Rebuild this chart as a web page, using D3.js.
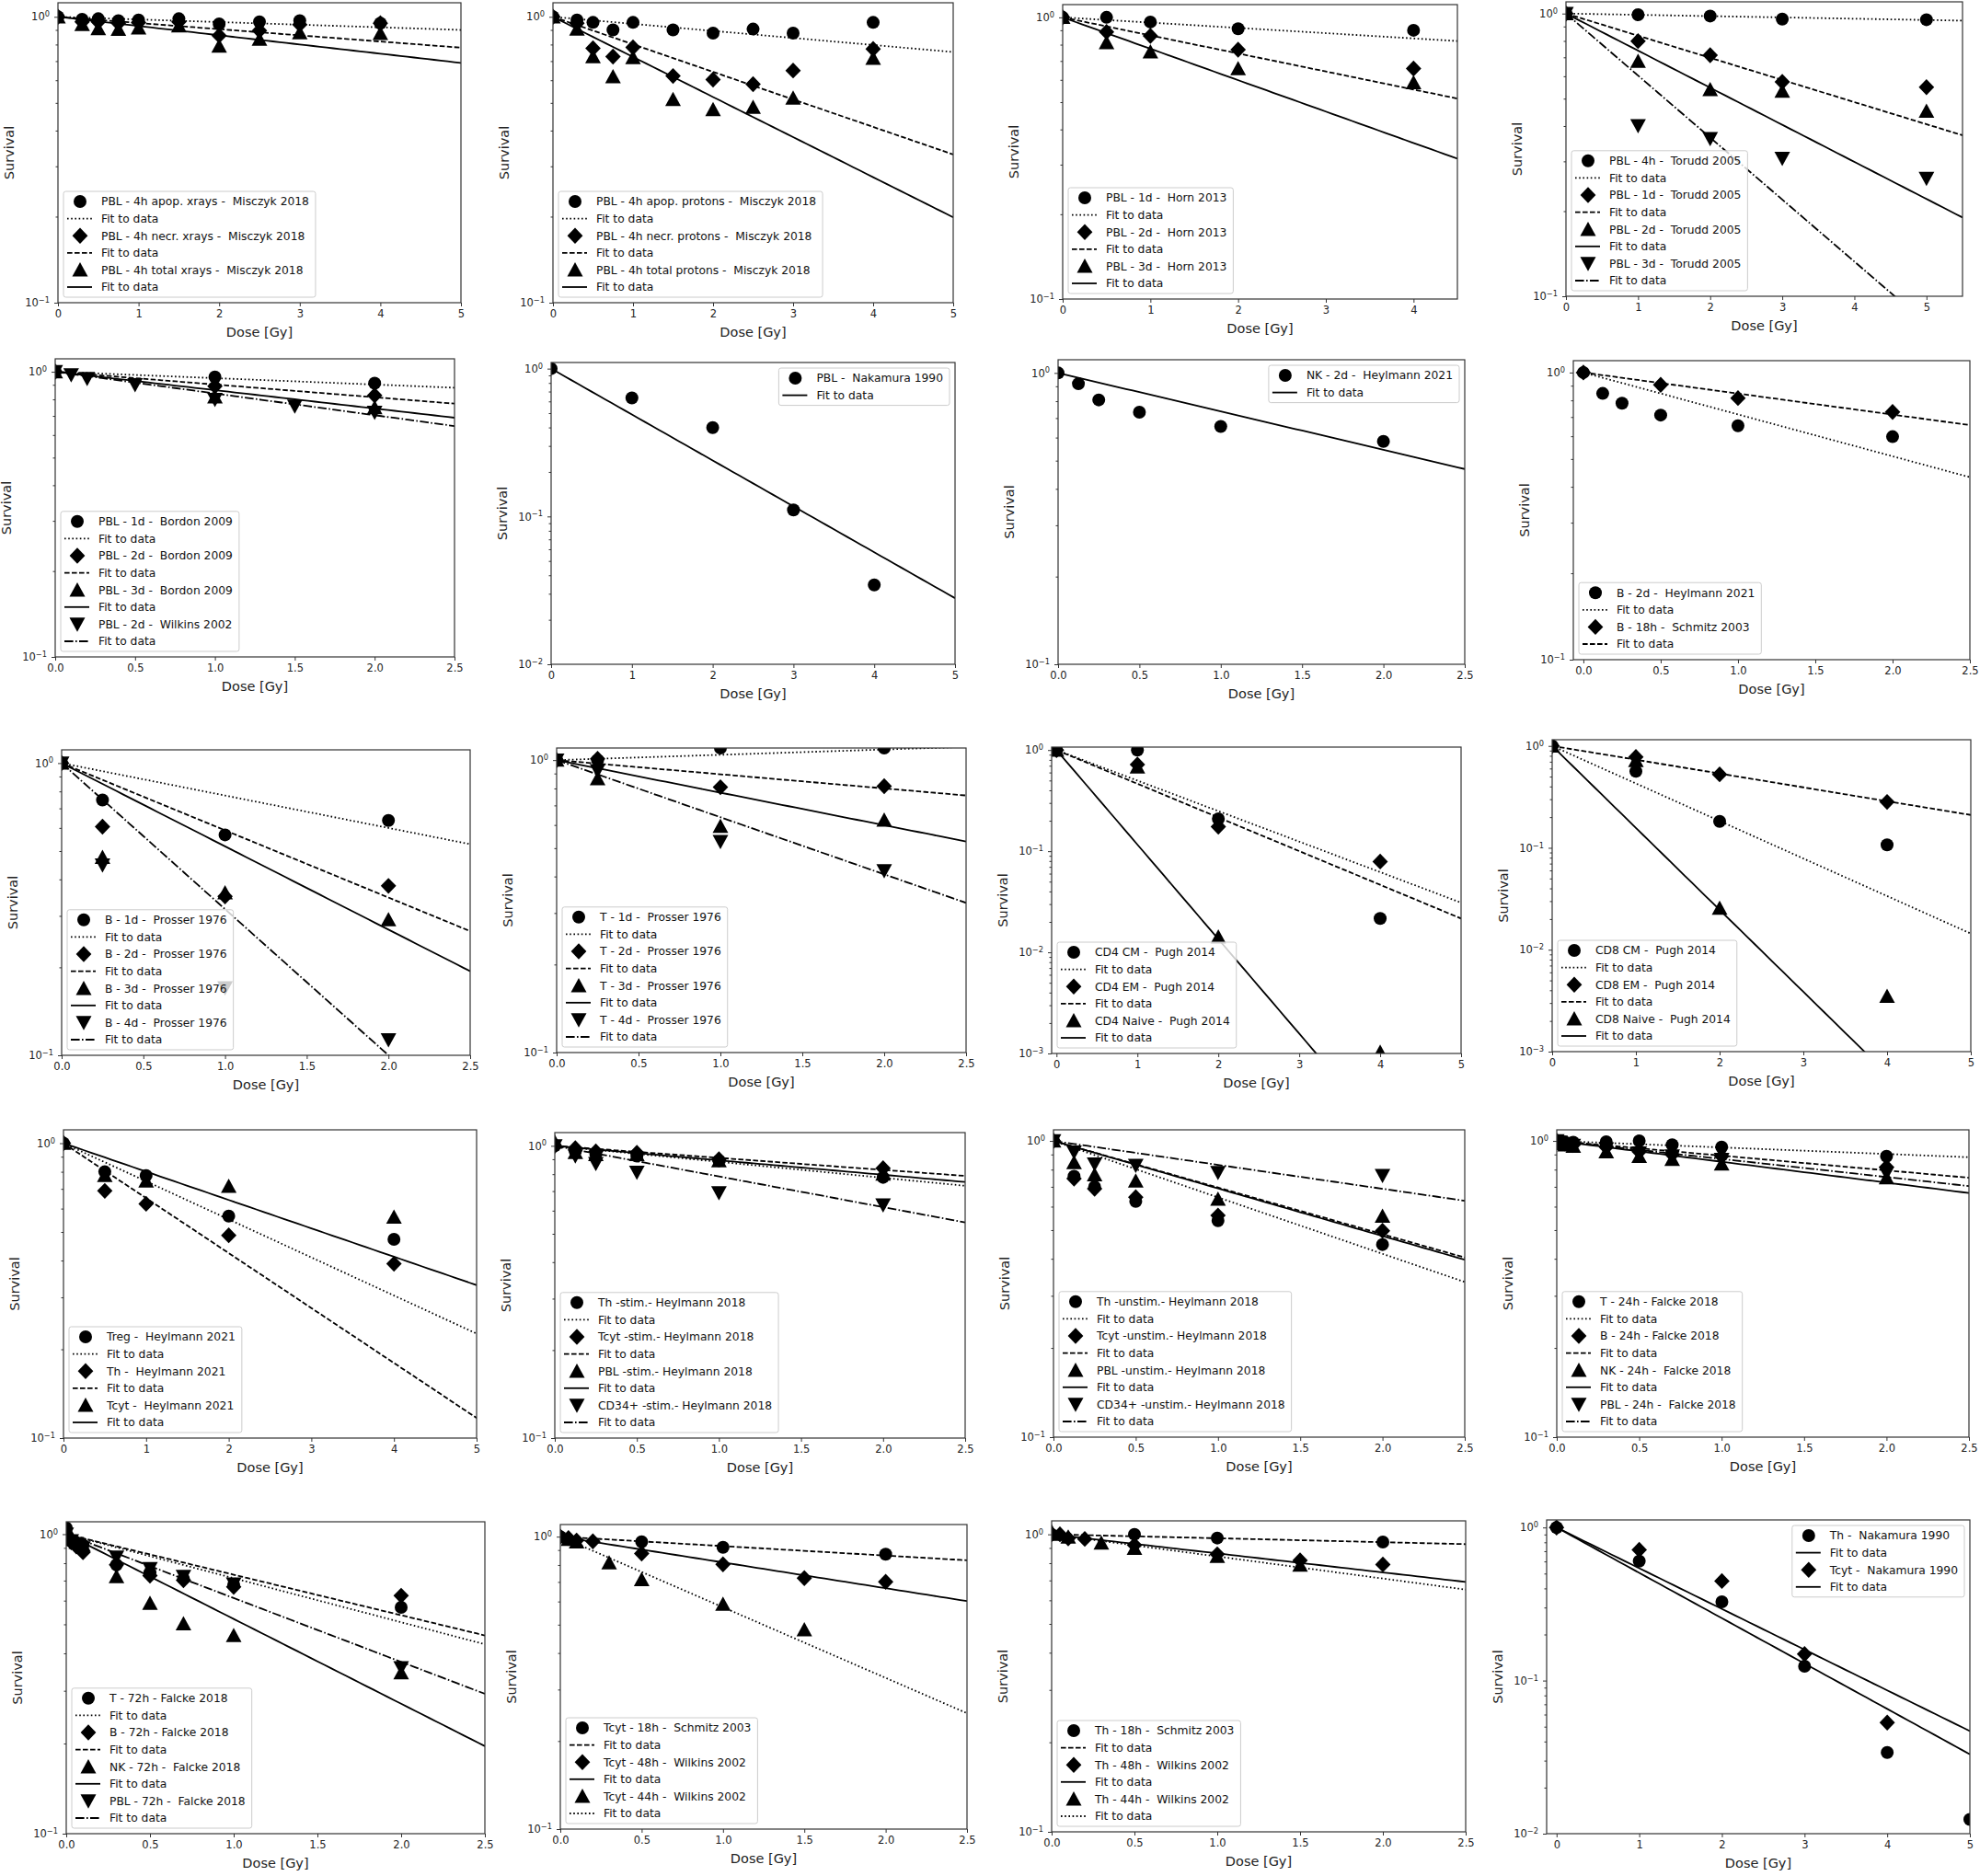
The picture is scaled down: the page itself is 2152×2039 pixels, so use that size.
<!DOCTYPE html>
<html>
<head>
<meta charset="utf-8">
<script src="https://cdn.jsdelivr.net/npm/d3@7"></script>
<style>
  body { margin: 0; background: #fff; }
  svg { display: block; }
  text { font-family: "DejaVu Sans", sans-serif; }
</style>
</head>
<body>
<svg id="fig"></svg>
<script>
// ---- data: dose [Gy], survival, fitted slope (S = exp(-alpha*D)) ----

const xTicksInt5 = [0, 1, 2, 3, 4, 5];
const xTicksInt4 = [0, 1, 2, 3, 4];
const xTicksHalf = [0, 0.5, 1, 1.5, 2, 2.5];

// panel 1 : Misczyk 2018, x-rays
const p1Dose = [0, 0.3, 0.5, 0.75, 1, 1.5, 2, 2.5, 3, 4];
const p1Surv = [
  [1.0, 0.98, 0.985, 0.97, 0.975, 0.985, 0.945, 0.96, 0.97, 0.95],
  [1.0, 0.96, 0.96, 0.95, 0.955, 0.96, 0.86, 0.895, 0.94, 0.95],
  [1.0, 0.94, 0.91, 0.905, 0.915, 0.93, 0.79, 0.835, 0.88, 0.875]
];
const p1Alpha = [0.0211, 0.0497, 0.0742];
const p1Labels = ["PBL - 4h apop. xrays -  Misczyk 2018", "PBL - 4h necr. xrays -  Misczyk 2018", "PBL - 4h total xrays -  Misczyk 2018"];

// panel 2 : Misczyk 2018, protons
const p2Dose = [0, 0.3, 0.5, 0.75, 1, 1.5, 2, 2.5, 3, 4];
const p2Surv = [
  [1.0, 0.975, 0.956, 0.90, 0.956, 0.90, 0.877, 0.906, 0.877, 0.956],
  [1.0, 0.95, 0.776, 0.726, 0.782, 0.621, 0.603, 0.581, 0.649, 0.772],
  [1.0, 0.906, 0.726, 0.618, 0.72, 0.514, 0.474, 0.483, 0.52, 0.716]
];
const p2Alpha = [0.0567, 0.2217, 0.3229];
const p2Labels = ["PBL - 4h apop. protons -  Misczyk 2018", "PBL - 4h necr. protons -  Misczyk 2018", "PBL - 4h total protons -  Misczyk 2018"];

// panel 3 : Horn 2013
const p3Dose = [0, 0.5, 1, 2, 4];
const p3Surv = [
  [1.0, 1.0, 0.963, 0.911, 0.90],
  [1.0, 0.888, 0.86, 0.768, 0.658],
  [1.0, 0.814, 0.755, 0.658, 0.587]
];
const p3Alpha = [0.043, 0.1475, 0.2567];
const p3Labels = ["PBL - 1d -  Horn 2013", "PBL - 2d -  Horn 2013", "PBL - 3d -  Horn 2013"];

// panel 4 : Torudd 2005
const p4Dose = [0, 1, 2, 3, 5];
const p4Surv = [
  [1.0, 0.99, 0.98, 0.956, 0.951],
  [1.0, 0.799, 0.712, 0.573, 0.549],
  [1.0, 0.678, 0.539, 0.532, 0.452],
  [1.0, 0.401, 0.361, 0.307, 0.261]
];
const p4Alpha = [0.0105, 0.1803, 0.302, 0.505];
const p4Labels = ["PBL - 4h -  Torudd 2005", "PBL - 1d -  Torudd 2005", "PBL - 2d -  Torudd 2005", "PBL - 3d -  Torudd 2005"];

// panel 5 : Bordon 2009 / Wilkins 2002
const p5Dose = [[0, 1, 2], [0, 1, 2], [0, 1, 2], [0, 0.1, 0.2, 0.5, 1, 1.5, 2]];
const p5Surv = [
  [1.0, 0.959, 0.912],
  [1.0, 0.89, 0.826],
  [1.0, 0.816, 0.748],
  [1.0, 0.975, 0.947, 0.901, 0.80, 0.758, 0.721]
];
const p5Alpha = [0.0516, 0.103, 0.1484, 0.1754];
const p5Labels = ["PBL - 1d -  Bordon 2009", "PBL - 2d -  Bordon 2009", "PBL - 3d -  Bordon 2009", "PBL - 2d -  Wilkins 2002"];

// panel 6 : Nakamura 1990, PBL
const p6Dose = [0, 1, 2, 3, 4];
const p6Surv = [[1.0, 0.634, 0.399, 0.1106, 0.0344]];
const p6Alpha = [0.7151];
const p6Labels = ["PBL -  Nakamura 1990"];

// panel 7 : Heylmann 2021, NK
const p7Dose = [0, 0.125, 0.25, 0.5, 1, 2];
const p7Surv = [[1.0, 0.918, 0.808, 0.733, 0.655, 0.582]];
const p7Alpha = [0.3037];
const p7Labels = ["NK - 2d -  Heylmann 2021"];

// panel 8 : B cells
const p8Dose = [[0, 0.125, 0.25, 0.5, 1, 2], [0, 0.5, 1, 2]];
const p8Surv = [
  [1.0, 0.846, 0.782, 0.711, 0.653, 0.598],
  [1.0, 0.906, 0.815, 0.729]
];
const p8Alpha = [0.3357, 0.1686];
const p8Labels = ["B - 2d -  Heylmann 2021", "B - 18h -  Schmitz 2003"];

// panel 9 : Prosser 1976, B
const p9Dose = [0, 0.25, 1, 2];
const p9Surv = [
  [1.0, 0.748, 0.568, 0.636],
  [1.0, 0.606, 0.35, 0.38],
  [1.0, 0.476, 0.36, 0.291],
  [1.0, 0.448, 0.17, 0.113]
];
const p9Alpha = [0.2555, 0.5297, 0.656, 1.151];
const p9Labels = ["B - 1d -  Prosser 1976", "B - 2d -  Prosser 1976", "B - 3d -  Prosser 1976", "B - 4d -  Prosser 1976"];

// panel 10 : Prosser 1976, T
const p10Dose = [0, 0.25, 1, 2];
const p10Surv = [
  [1.0, 1.0, 1.10, 1.10],
  [1.0, 1.01, 0.808, 0.814],
  [1.0, 0.865, 0.594, 0.624],
  [1.0, 0.92, 0.527, 0.418]
];
const p10Alpha = [-0.0418, 0.1114, 0.2562, 0.4496];
const p10Labels = ["T - 1d -  Prosser 1976", "T - 2d -  Prosser 1976", "T - 3d -  Prosser 1976", "T - 4d -  Prosser 1976"];

// panel 11 : Pugh 2014, CD4
const p11Dose = [0, 1, 2, 4];
const p11Surv = [
  [1.0, 1.0, 0.209, 0.0216],
  [1.0, 0.72, 0.175, 0.079],
  [1.0, 0.68, 0.0142, 0.00103]
];
const p11Alpha = [0.6948, 0.767, 2.152];
const p11Labels = ["CD4 CM -  Pugh 2014", "CD4 EM -  Pugh 2014", "CD4 Naive -  Pugh 2014"];

// panel 12 : Pugh 2014, CD8
const p12Dose = [0, 1, 2, 4];
const p12Surv = [
  [1.0, 0.563, 0.182, 0.107],
  [1.0, 0.78, 0.526, 0.282],
  [1.0, 0.718, 0.0256, 0.0035]
];
const p12Alpha = [0.848, 0.3121, 1.852];
const p12Labels = ["CD8 CM -  Pugh 2014", "CD8 EM -  Pugh 2014", "CD8 Naive -  Pugh 2014"];

// panel 13 : Heylmann 2021, T subsets
const p13Dose = [0, 0.5, 1, 2, 4];
const p13Surv = [
  [1.0, 0.80, 0.777, 0.566, 0.472],
  [1.0, 0.689, 0.623, 0.487, 0.39],
  [1.0, 0.777, 0.745, 0.715, 0.562]
];
const p13Alpha = [0.2974, 0.4291, 0.2217];
const p13Labels = ["Treg -  Heylmann 2021", "Th -  Heylmann 2021", "Tcyt -  Heylmann 2021"];

// panel 14 : Heylmann 2018, stimulated
const p14Dose = [0, 0.125, 0.25, 0.5, 1, 2];
const p14Surv = [
  [1.0, 0.957, 0.934, 0.923, 0.89, 0.78],
  [1.0, 0.981, 0.957, 0.946, 0.90, 0.838],
  [1.03, 0.95, 0.934, 0.934, 0.89, 0.80],
  [1.0, 0.923, 0.869, 0.812, 0.691, 0.627]
];
const p14Alpha = [0.1259, 0.0948, 0.114, 0.2413];
const p14Labels = ["Th -stim.- Heylmann 2018", "Tcyt -stim.- Heylmann 2018", "PBL -stim.- Heylmann 2018", "CD34+ -stim.- Heylmann 2018"];

// panel 15 : Heylmann 2018, unstimulated
const p15Dose = [0, 0.125, 0.25, 0.5, 1, 2];
const p15Surv = [
  [1.0, 0.76, 0.70, 0.625, 0.538, 0.447],
  [1.0, 0.746, 0.69, 0.646, 0.56, 0.497],
  [1.0, 0.846, 0.769, 0.733, 0.636, 0.557],
  [1.0, 0.916, 0.836, 0.826, 0.782, 0.764]
];
const p15Alpha = [0.4387, 0.3625, 0.3695, 0.1861];
const p15Labels = ["Th -unstim.- Heylmann 2018", "Tcyt -unstim.- Heylmann 2018", "PBL -unstim.- Heylmann 2018", "CD34+ -unstim.- Heylmann 2018"];

// panel 16 : Falcke 2018, 24h
const p16Dose = [0, 0.02, 0.05, 0.1, 0.3, 0.5, 0.7, 1, 2];
const p16Surv = [
  [1.0, 1.0, 0.99, 0.99, 0.993, 1.0, 0.97, 0.953, 0.887],
  [1.0, 0.99, 0.98, 0.97, 0.953, 0.92, 0.90, 0.887, 0.816],
  [1.0, 0.98, 0.97, 0.96, 0.92, 0.887, 0.866, 0.836, 0.751],
  [1.0, 0.99, 0.98, 0.965, 0.94, 0.91, 0.89, 0.866, 0.778]
];
const p16Alpha = [0.0507, 0.1145, 0.162, 0.1404];
const p16Labels = ["T - 24h - Falcke 2018", "B - 24h - Falcke 2018", "NK - 24h -  Falcke 2018", "PBL - 24h -  Falcke 2018"];

// panel 17 : Falcke 2018, 72h
const p17Dose = [0, 0.03, 0.06, 0.1, 0.3, 0.5, 0.7, 1, 2];
const p17Surv = [
  [1.05, 0.95, 0.93, 0.92, 0.79, 0.744, 0.71, 0.677, 0.57],
  [1.0, 0.94, 0.91, 0.87, 0.79, 0.727, 0.702, 0.667, 0.623],
  [1.05, 0.96, 0.94, 0.92, 0.722, 0.588, 0.502, 0.459, 0.345],
  [1.0, 0.95, 0.93, 0.90, 0.838, 0.767, 0.722, 0.682, 0.358]
];
const p17Alpha = [0.3385, 0.3115, 0.6518, 0.491];
const p17Labels = ["T - 72h - Falcke 2018", "B - 72h - Falcke 2018", "NK - 72h -  Falcke 2018", "PBL - 72h -  Falcke 2018"];

// panel 18 : Tcyt, Schmitz 2003 / Wilkins 2002
const p18Dose = [[0, 0.5, 1, 2], [0, 0.05, 0.1, 0.2, 0.5, 1, 1.5, 2], [0, 0.05, 0.1, 0.3, 0.5, 1, 1.5]];
const p18Surv = [
  [1.0, 0.96, 0.919, 0.871],
  [1.0, 0.988, 0.97, 0.964, 0.876, 0.804, 0.721, 0.701],
  [1.0, 0.98, 0.96, 0.814, 0.713, 0.588, 0.481]
];
const p18Alpha = [0.0745, 0.203, 0.5561];
const p18Labels = ["Tcyt - 18h -  Schmitz 2003", "Tcyt - 48h -  Wilkins 2002", "Tcyt - 44h -  Wilkins 2002"];

// panel 19 : Th, Schmitz 2003 / Wilkins 2002
const p19Dose = [[0, 0.5, 1, 2], [0, 0.05, 0.1, 0.2, 0.5, 1, 1.5, 2], [0, 0.05, 0.1, 0.3, 0.5, 1, 1.5]];
const p19Surv = [
  [1.0, 1.0, 0.972, 0.942],
  [1.0, 1.0, 0.97, 0.965, 0.92, 0.857, 0.817, 0.792],
  [1.02, 1.0, 0.98, 0.935, 0.898, 0.843, 0.788]
];
const p19Alpha = [0.0303, 0.1473, 0.1711];
const p19Labels = ["Th - 18h -  Schmitz 2003", "Th - 48h -  Wilkins 2002", "Th - 44h -  Wilkins 2002"];

// panel 20 : Nakamura 1990, Th / Tcyt
const p20Dose = [[0, 1, 2, 3, 4, 5], [0, 1, 2, 3, 4]];
const p20Surv = [
  [1.0, 0.603, 0.327, 0.124, 0.0339, 0.0124],
  [1.0, 0.715, 0.447, 0.149, 0.0532]
];
const p20Alpha = [0.6822, 0.6124];
const p20Labels = ["Th -  Nakamura 1990", "Tcyt -  Nakamura 1990"];

// ---- styles ----
const markerOrder = ["circle", "diamond", "up", "down"];
const linesStd = ["dotted", "dashed", "solid", "dashdot"];
const linesWilkins = ["dashed", "solid", "dotted"];
const linesSolid = ["solid", "solid"];

const dashes = { solid: null, dotted: "1.6,2.6", dashed: "5.6,2.4", dashdot: "9.6,2.4,1.6,2.4" };
const markerPath = {
  circle: d3.symbol(d3.symbolCircle, Math.PI * 49)(),
  diamond: "M0,-8.7L8.4,0L0,8.7L-8.4,0Z",
  up: "M0,-8.3L8.5,7.2L-8.5,7.2Z",
  down: "M0,8.3L8.5,-7.2L-8.5,-7.2Z"
};

// panel table, built from the arrays above
const panels = [
  { dose: p1Dose, surv: p1Surv, alpha: p1Alpha, labels: p1Labels, xd: [0, 5], yd: [0.1, 1.12], ticks: xTicksInt5, lines: linesStd, legend: "ll" },
  { dose: p2Dose, surv: p2Surv, alpha: p2Alpha, labels: p2Labels, xd: [0, 5], yd: [0.1, 1.12], ticks: xTicksInt5, lines: linesStd, legend: "ll" },
  { dose: p3Dose, surv: p3Surv, alpha: p3Alpha, labels: p3Labels, xd: [0, 4.5], yd: [0.1, 1.11], ticks: xTicksInt4, lines: linesStd, legend: "ll" },
  { dose: p4Dose, surv: p4Surv, alpha: p4Alpha, labels: p4Labels, xd: [0, 5.5], yd: [0.1, 1.10], ticks: xTicksInt5, lines: linesStd, legend: "ll" },
  { dose: p5Dose, surv: p5Surv, alpha: p5Alpha, labels: p5Labels, xd: [0, 2.5], yd: [0.1, 1.11], ticks: xTicksHalf, lines: linesStd, legend: "ll" },
  { dose: p6Dose, surv: p6Surv, alpha: p6Alpha, labels: p6Labels, xd: [0, 5], yd: [0.01, 1.10], ticks: xTicksInt5, lines: linesSolid, legend: "ur" },
  { dose: p7Dose, surv: p7Surv, alpha: p7Alpha, labels: p7Labels, xd: [0, 2.5], yd: [0.1, 1.11], ticks: xTicksHalf, lines: linesSolid, legend: "ur" },
  { dose: p8Dose, surv: p8Surv, alpha: p8Alpha, labels: p8Labels, xd: [-0.065, 2.5], yd: [0.1, 1.10], ticks: xTicksHalf, lines: linesStd, legend: "ll" },
  { dose: p9Dose, surv: p9Surv, alpha: p9Alpha, labels: p9Labels, xd: [0, 2.5], yd: [0.1, 1.11], ticks: xTicksHalf, lines: linesStd, legend: "ll" },
  { dose: p10Dose, surv: p10Surv, alpha: p10Alpha, labels: p10Labels, xd: [0, 2.5], yd: [0.1, 1.10], ticks: xTicksHalf, lines: linesStd, legend: "ll" },
  { dose: p11Dose, surv: p11Surv, alpha: p11Alpha, labels: p11Labels, xd: [-0.06, 5], yd: [0.001, 1.07], ticks: xTicksInt5, lines: linesStd, legend: "ll" },
  { dose: p12Dose, surv: p12Surv, alpha: p12Alpha, labels: p12Labels, xd: [0, 5], yd: [0.001, 1.15], ticks: xTicksInt5, lines: linesStd, legend: "ll" },
  { dose: p13Dose, surv: p13Surv, alpha: p13Alpha, labels: p13Labels, xd: [0, 5], yd: [0.1, 1.11], ticks: xTicksInt5, lines: linesStd, legend: "ll" },
  { dose: p14Dose, surv: p14Surv, alpha: p14Alpha, labels: p14Labels, xd: [0, 2.5], yd: [0.1, 1.11], ticks: xTicksHalf, lines: linesStd, legend: "ll" },
  { dose: p15Dose, surv: p15Surv, alpha: p15Alpha, labels: p15Labels, xd: [0, 2.5], yd: [0.1, 1.09], ticks: xTicksHalf, lines: linesStd, legend: "ll" },
  { dose: p16Dose, surv: p16Surv, alpha: p16Alpha, labels: p16Labels, xd: [0, 2.5], yd: [0.1, 1.09], ticks: xTicksHalf, lines: linesStd, legend: "ll" },
  { dose: p17Dose, surv: p17Surv, alpha: p17Alpha, labels: p17Labels, xd: [0, 2.5], yd: [0.1, 1.10], ticks: xTicksHalf, lines: linesStd, legend: "ll" },
  { dose: p18Dose, surv: p18Surv, alpha: p18Alpha, labels: p18Labels, xd: [0, 2.5], yd: [0.1, 1.10], ticks: xTicksHalf, lines: linesWilkins, legend: "ll" },
  { dose: p19Dose, surv: p19Surv, alpha: p19Alpha, labels: p19Labels, xd: [0, 2.5], yd: [0.1, 1.11], ticks: xTicksHalf, lines: linesWilkins, legend: "ll" },
  { dose: p20Dose, surv: p20Surv, alpha: p20Alpha, labels: p20Labels, xd: [-0.12, 5], yd: [0.01, 1.12], ticks: xTicksInt5, lines: linesSolid, legend: "ur" }
];

// plot-area boxes in page pixels: left, top, right, bottom
const boxes = [
  [63, 3, 501, 329], [601, 3, 1036, 329], [1155, 5, 1584, 325], [1702, 2, 2133, 322],
  [60, 390, 494, 714], [599, 394, 1038, 722], [1150, 391, 1592, 722], [1710, 392, 2141, 717],
  [67, 815, 511, 1147], [605, 813, 1050, 1144], [1143, 812, 1588, 1145], [1687, 804, 2142, 1143],
  [69, 1228, 518, 1563], [603, 1231, 1049, 1563], [1145, 1228, 1592, 1562], [1692, 1228, 2140, 1562],
  [72, 1654, 527, 1993], [609, 1657, 1051, 1988], [1143, 1653, 1593, 1991], [1681, 1652, 2141, 1993]
];

const W = 2152, H = 2039;
const svg = d3.select("#fig").attr("width", W).attr("height", H);
svg.append("rect").attr("width", W).attr("height", H).attr("fill", "#fff");
const defs = svg.append("defs");

const doseFor = (p, k) => Array.isArray(p.dose[0]) ? p.dose[k] : p.dose;

panels.forEach(function(p, i) {
  const [l, t, r, b] = boxes[i];
  const x = d3.scaleLinear().domain(p.xd).range([l, r]);
  const y = d3.scaleLog().domain(p.yd).range([b, t]);
  const g = svg.append("g");

  defs.append("clipPath").attr("id", "clip" + i)
    .append("rect").attr("x", l).attr("y", t).attr("width", r - l).attr("height", b - t);
  const plot = g.append("g").attr("clip-path", "url(#clip" + i + ")");

  // markers then the fitted exponential for each series
  p.surv.forEach(function(s, k) {
    const d = doseFor(p, k);
    plot.append("g").selectAll("path")
      .data(s.map((v, j) => [d[j], v]))
      .join("path")
      .attr("d", markerPath[markerOrder[k]])
      .attr("transform", v => "translate(" + x(v[0]) + "," + y(v[1]) + ")")
      .attr("fill", "#000");

    const xs = d3.range(0, 61).map(j => p.xd[1] * j / 60);
    plot.append("path").datum(xs)
      .attr("d", d3.line().x(v => x(v)).y(v => y(Math.exp(-p.alpha[k] * v))))
      .attr("fill", "none")
      .attr("stroke", "#000")
      .attr("stroke-width", 1.8)
      .attr("stroke-dasharray", dashes[p.lines[k]]);
  });

  // x axis
  const fmt = p.ticks === xTicksHalf ? d3.format(".1f") : d3.format("d");
  const xa = g.append("g").attr("transform", "translate(0," + b + ")")
    .call(d3.axisBottom(x).tickValues(p.ticks).tickFormat(fmt).tickSize(4).tickPadding(4));
  xa.select(".domain").remove();

  // y axis, decades with superscript labels plus minor ticks
  const decades = d3.range(Math.round(Math.log10(p.yd[0])), 1).map(e => Math.pow(10, e));
  const minors = [];
  decades.slice(0, -1).forEach(dv => d3.range(2, 10).forEach(m => minors.push(m * dv)));
  const ya = g.append("g").attr("transform", "translate(" + l + ",0)")
    .call(d3.axisLeft(y).tickValues(decades).tickFormat(() => "").tickSize(4).tickPadding(5));
  ya.select(".domain").remove();
  ya.selectAll(".tick text").each(function(v) {
    const e = Math.round(Math.log10(v));
    const tx = d3.select(this).text("10");
    tx.append("tspan").attr("dy", "-0.5em").attr("font-size", "0.72em")
      .text(e < 0 ? "\u2212" + (-e) : String(e));
  });
  const ym = g.append("g").attr("transform", "translate(" + l + ",0)")
    .call(d3.axisLeft(y).tickValues(minors).tickFormat(() => "").tickSize(2.5));
  ym.select(".domain").remove();

  [xa, ya, ym].forEach(a => {
    a.attr("font-family", "DejaVu Sans").attr("font-size", 11.5);
    a.selectAll("line").attr("stroke", "#333").attr("stroke-width", 1);
    a.selectAll("text").attr("fill", "#222");
  });

  // frame
  g.append("rect").attr("x", l).attr("y", t).attr("width", r - l).attr("height", b - t)
    .attr("fill", "none").attr("stroke", "#333").attr("stroke-width", 1.2);

  // axis titles
  g.append("text").attr("x", (l + r) / 2).attr("y", b + 37)
    .attr("text-anchor", "middle").attr("font-size", 14.5).attr("fill", "#222").text("Dose [Gy]");
  g.append("text").attr("transform", "translate(" + (l - 48) + "," + (t + b) / 2 + ") rotate(-90)")
    .attr("text-anchor", "middle").attr("font-size", 14.5).attr("fill", "#222").text("Survival");

  // legend
  const rows = [];
  p.labels.forEach(function(lab, k) {
    rows.push({ kind: "marker", k: k, text: lab });
    rows.push({ kind: "line", k: k, text: "Fit to data" });
  });
  const rowH = 18.6;
  const lg = g.append("g");
  const frame = lg.append("rect");
  const items = lg.selectAll("g.item").data(rows).join("g")
    .attr("class", "item")
    .attr("transform", (d, j) => "translate(0," + (11 + j * rowH) + ")");
  const texts = items.append("text")
    .attr("x", 41).attr("dy", "0.36em")
    .attr("font-size", 12.3).attr("fill", "#111")
    .style("white-space", "pre")
    .text(d => d.text);
  items.filter(d => d.kind === "marker").append("path")
    .attr("transform", "translate(18,0)")
    .attr("d", d => markerPath[markerOrder[d.k]])
    .attr("fill", "#000");
  items.filter(d => d.kind === "line").append("line")
    .attr("x1", 4).attr("x2", 31)
    .attr("stroke", "#000").attr("stroke-width", 1.8)
    .attr("stroke-dasharray", d => dashes[p.lines[d.k]]);

  let maxW = 0;
  texts.each(function() { maxW = Math.max(maxW, this.getComputedTextLength()); });
  const lw = 41 + maxW + 7;
  const lh = 22 + (rows.length - 1) * rowH;
  frame.attr("width", lw).attr("height", lh).attr("rx", 2.5)
    .attr("fill", "#fff").attr("fill-opacity", 0.8)
    .attr("stroke", "#ccc").attr("stroke-width", 1);
  const lx = p.legend === "ur" ? r - 6 - lw : l + 6;
  const ly = p.legend === "ur" ? t + 6 : b - 6 - lh;
  lg.attr("transform", "translate(" + lx + "," + ly + ")");
});
</script>
</body>
</html>
